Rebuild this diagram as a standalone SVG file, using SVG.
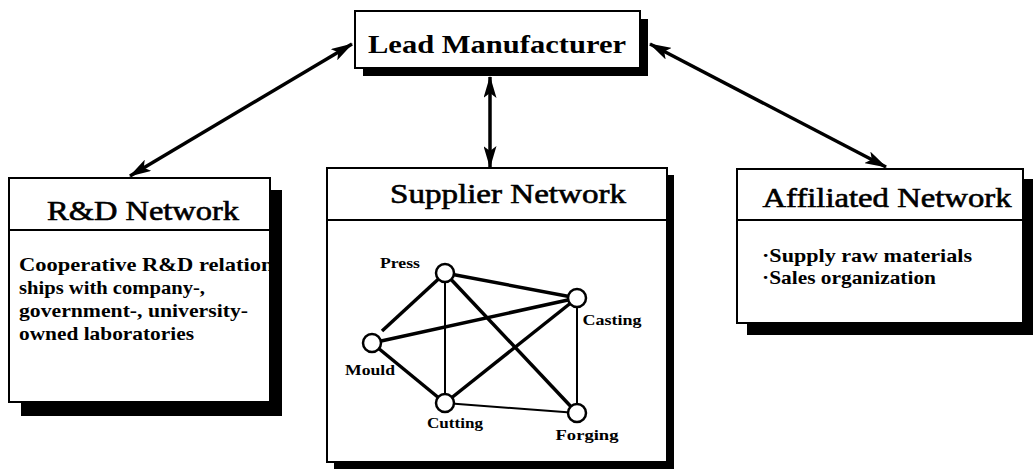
<svg xmlns="http://www.w3.org/2000/svg" width="1035" height="472" viewBox="0 0 1035 472">
<style>
.box{fill:#fff;stroke:#000;stroke-width:2}
.sh{fill:#000}
.div{stroke:#000;stroke-width:2}
.title{font-family:"Liberation Serif",serif;font-size:27px;fill:#000;text-anchor:middle;stroke:#000;stroke-width:0.6}
.lead{font-family:"Liberation Serif",serif;font-size:26px;font-weight:bold;fill:#000;text-anchor:middle}
.body{font-family:"Liberation Serif",serif;font-size:19px;font-weight:bold;fill:#000}
.lbl{font-family:"Liberation Serif",serif;font-size:15px;font-weight:bold;fill:#000;text-anchor:middle}
.conn{stroke:#000;stroke-width:3.5;fill:none}
.edge{stroke:#000;stroke-width:3.5}
.thin{stroke:#000;stroke-width:2}
.nd{fill:#fff;stroke:#000;stroke-width:2.5}
</style>
<defs>
<marker id="ah" viewBox="0 0 22 13" refX="21" refY="6.5" markerWidth="22" markerHeight="13" markerUnits="userSpaceOnUse" orient="auto-start-reverse">
<path d="M0,0 L22,6.5 L0,13 L5,6.5 Z" fill="#000"/>
</marker>
<clipPath id="rdclip"><rect x="9" y="178" width="262" height="224"/></clipPath>
</defs>
<g id="connectors">
<line class="conn" x1="352" y1="44" x2="130" y2="176" marker-start="url(#ah)" marker-end="url(#ah)"/>
<line class="conn" x1="490" y1="77" x2="490" y2="167" marker-start="url(#ah)" marker-end="url(#ah)"/>
<line class="conn" x1="650" y1="44" x2="886" y2="167" marker-start="url(#ah)" marker-end="url(#ah)"/>
</g>
<g id="lead-manufacturer">
<rect class="sh" x="363" y="19" width="285" height="57"/>
<rect class="box" x="355" y="11" width="285" height="57"/>
<text class="lead" x="497" y="53" textLength="258" lengthAdjust="spacingAndGlyphs">Lead Manufacturer</text>
</g>
<g id="rd-network">
<rect class="sh" x="21" y="190" width="261" height="226"/>
<rect class="box" x="9" y="178" width="261" height="224"/>
<line class="div" x1="9" y1="230" x2="270" y2="230"/>
<text class="title" x="143" y="220" textLength="192" lengthAdjust="spacingAndGlyphs">R&amp;D Network</text>
<g clip-path="url(#rdclip)">
<text class="body" x="19" y="271" textLength="262" lengthAdjust="spacingAndGlyphs">Cooperative R&amp;D relation-</text>
</g>
<text class="body" x="19" y="294" textLength="186" lengthAdjust="spacingAndGlyphs">ships with company-,</text>
<text class="body" x="19" y="317" textLength="229" lengthAdjust="spacingAndGlyphs">government-, university-</text>
<text class="body" x="19" y="340" textLength="175" lengthAdjust="spacingAndGlyphs">owned laboratories</text>
</g>
<g id="supplier-network">
<rect class="sh" x="334" y="175" width="340" height="294"/>
<rect class="box" x="327" y="168" width="340" height="294"/>
<line class="div" x1="327" y1="220" x2="667" y2="220"/>
<text class="title" x="508" y="203" textLength="236" lengthAdjust="spacingAndGlyphs">Supplier Network</text>
<g id="edges">
<line class="edge" x1="445" y1="273" x2="577" y2="298"/>
<line class="edge" x1="445" y1="273" x2="382" y2="331"/>
<line class="thin" x1="445" y1="273" x2="445" y2="403"/>
<line class="edge" x1="445" y1="273" x2="577" y2="413"/>
<line class="edge" x1="372" y1="343" x2="577" y2="298"/>
<line class="edge" x1="372" y1="343" x2="445" y2="403"/>
<line class="edge" x1="445" y1="403" x2="577" y2="298"/>
<line class="thin" x1="445" y1="403" x2="577" y2="413"/>
<line class="thin" x1="577" y1="298" x2="577" y2="413"/>
</g>
<circle id="press" class="nd" cx="445" cy="273" r="9"/>
<circle id="casting" class="nd" cx="577" cy="298" r="9"/>
<circle id="mould" class="nd" cx="372" cy="343" r="9"/>
<circle id="cutting" class="nd" cx="445" cy="403" r="9"/>
<circle id="forging" class="nd" cx="577" cy="413" r="9"/>
<text class="lbl" x="400" y="268" textLength="40" lengthAdjust="spacingAndGlyphs">Press</text>
<text class="lbl" x="612" y="325" textLength="59" lengthAdjust="spacingAndGlyphs">Casting</text>
<text class="lbl" x="370" y="375" textLength="50" lengthAdjust="spacingAndGlyphs">Mould</text>
<text class="lbl" x="455" y="428" textLength="56" lengthAdjust="spacingAndGlyphs">Cutting</text>
<text class="lbl" x="587" y="440" textLength="63" lengthAdjust="spacingAndGlyphs">Forging</text>
</g>
<g id="affiliated-network">
<rect class="sh" x="747" y="179" width="286" height="156"/>
<rect class="box" x="737" y="169" width="286" height="154"/>
<line class="div" x1="737" y1="220" x2="1023" y2="220"/>
<text class="title" x="887" y="207" textLength="249" lengthAdjust="spacingAndGlyphs">Affiliated Network</text>
<text class="body" x="762" y="262" textLength="210" lengthAdjust="spacingAndGlyphs">·Supply raw materials</text>
<text class="body" x="762" y="284" textLength="174" lengthAdjust="spacingAndGlyphs">·Sales organization</text>
</g>
</svg>
